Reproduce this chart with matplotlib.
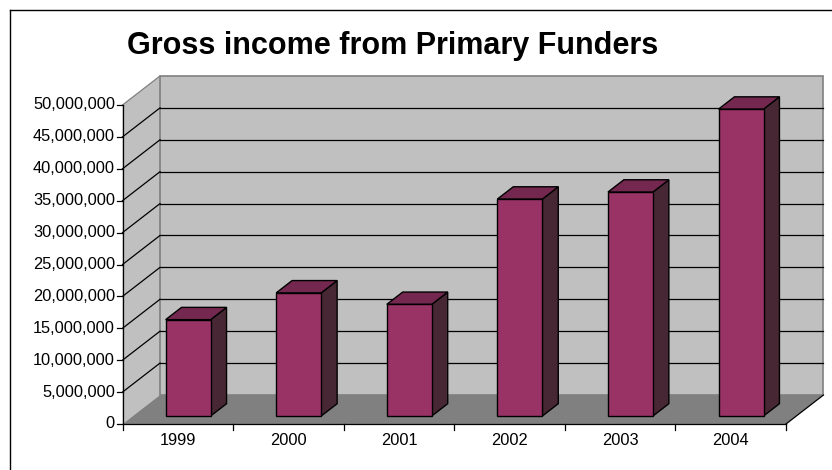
import matplotlib
matplotlib.use("Agg")
import matplotlib.pyplot as plt
from matplotlib.patches import Polygon
from matplotlib.lines import Line2D

# Chart data
years = ["1999", "2000", "2001", "2002", "2003", "2004"]
income = [15.1e6, 19.3e6, 17.5e6, 34.0e6, 35.1e6, 48.1e6]
y_ticks = list(range(0, 50_000_001, 5_000_000))
title = "Gross income from Primary Funders"

plt.rcParams["font.family"] = ["Liberation Sans", "DejaVu Sans"]

W, H = 832, 470
fig = plt.figure(figsize=(W / 100, H / 100), dpi=100)
ax = fig.add_axes([0, 0, 1, 1])
ax.axis("off")

# Front plane scale: category units across, value units up
px_cat = 110.58
px_val = 319 / 50e6
ox, oy = 122.5, 424
ax.set_xlim(-ox / px_cat, (W - ox) / px_cat)
ax.set_ylim(-(H - oy) / px_val, oy / px_val)

# Oblique depth offset of the 3-D box
dx = 37.5 / px_cat
dy = 29 / px_val


def P(x, v, d):
    """Project (category position, value, depth fraction) onto the page."""
    return (x + d * dx, v + d * dy)


n = len(years)
vmax = y_ticks[-1]

WALL = "#C0C0C0"
FLOOR = "#808080"
EDGE_GRAY = "#808080"

# Walls and floor
left_wall = [P(0, 0, 0), P(0, 0, 1), P(0, vmax, 1), P(0, vmax, 0)]
back_wall = [P(0, 0, 1), P(n, 0, 1), P(n, vmax, 1), P(0, vmax, 1)]
floor = [P(0, 0, 0), P(n, 0, 0), P(n, 0, 1), P(0, 0, 1)]
ax.add_patch(Polygon(left_wall, closed=True, facecolor=WALL, edgecolor="none", zorder=1))
ax.add_patch(Polygon(back_wall, closed=True, facecolor=WALL, edgecolor=EDGE_GRAY, lw=1.2, zorder=1))
ax.add_patch(Polygon(floor, closed=True, facecolor=FLOOR, edgecolor="none", zorder=2))

# Gridlines on the back and side walls
for v in y_ticks[1:]:
    col = "black" if v < vmax else EDGE_GRAY
    if v < vmax:
        ax.plot(*zip(P(0, v, 1), P(n, v, 1)), color="black", lw=0.9, zorder=3)
    ax.plot(*zip(P(0, v, 0), P(0, v, 1)), color=col, lw=0.9, zorder=3)

# Bars
bw = 0.407
d0, d1 = 0.276, 0.70
FRONT = "#993366"
TOP = "#74284F"
SIDE = "#472733"
for i, v in enumerate(income):
    x0 = i + (1 - bw) / 2
    x1 = x0 + bw
    front = [P(x0, 0, d0), P(x1, 0, d0), P(x1, v, d0), P(x0, v, d0)]
    side = [P(x1, 0, d0), P(x1, 0, d1), P(x1, v, d1), P(x1, v, d0)]
    top = [P(x0, v, d0), P(x1, v, d0), P(x1, v, d1), P(x0, v, d1)]
    for poly, fc in ((side, SIDE), (top, TOP), (front, FRONT)):
        ax.add_patch(Polygon(poly, closed=True, facecolor=fc, edgecolor="black",
                             lw=1.0, joinstyle="miter", zorder=5))

# Value axis
ax.plot(*zip(P(0, 0, 0), P(0, vmax, 0)), color="black", lw=0.9, zorder=6)
for v in y_ticks:
    ax.plot([-5.5 / px_cat, 0], [v, v], color="black", lw=0.9, zorder=6)
    ax.text(-7.5 / px_cat, v, f"{v:,}", ha="right", va="center", fontsize=11.8, zorder=6)

# Category axis
ax.plot(*zip(P(0, 0, 0), P(n, 0, 0)), color="black", lw=0.9, zorder=6)
ax.plot(*zip(P(n, 0, 0), P(n, 0, 1)), color="black", lw=0.9, zorder=6)
for i in range(n + 1):
    ax.plot([i, i], [0, -6 / px_val], color="black", lw=0.9, zorder=6)
for i, y in enumerate(years):
    ax.text(i + 0.5, -16.5 / px_val, y, ha="center", va="center", fontsize=11.8, zorder=6)

# Title
fig.text(392.5 / W, 1 - 54 / H, title, ha="center", va="baseline",
         fontsize=22, fontweight="bold")

# Chart area border
fig.add_artist(Line2D([9.5 / W, 1], [1 - 9.5 / H, 1 - 9.5 / H], color="black", lw=1.0,
                      transform=fig.transFigure))
fig.add_artist(Line2D([9.5 / W, 9.5 / W], [0, 1 - 9.5 / H], color="black", lw=1.0,
                      transform=fig.transFigure))

fig.savefig("out.png", dpi=100)
